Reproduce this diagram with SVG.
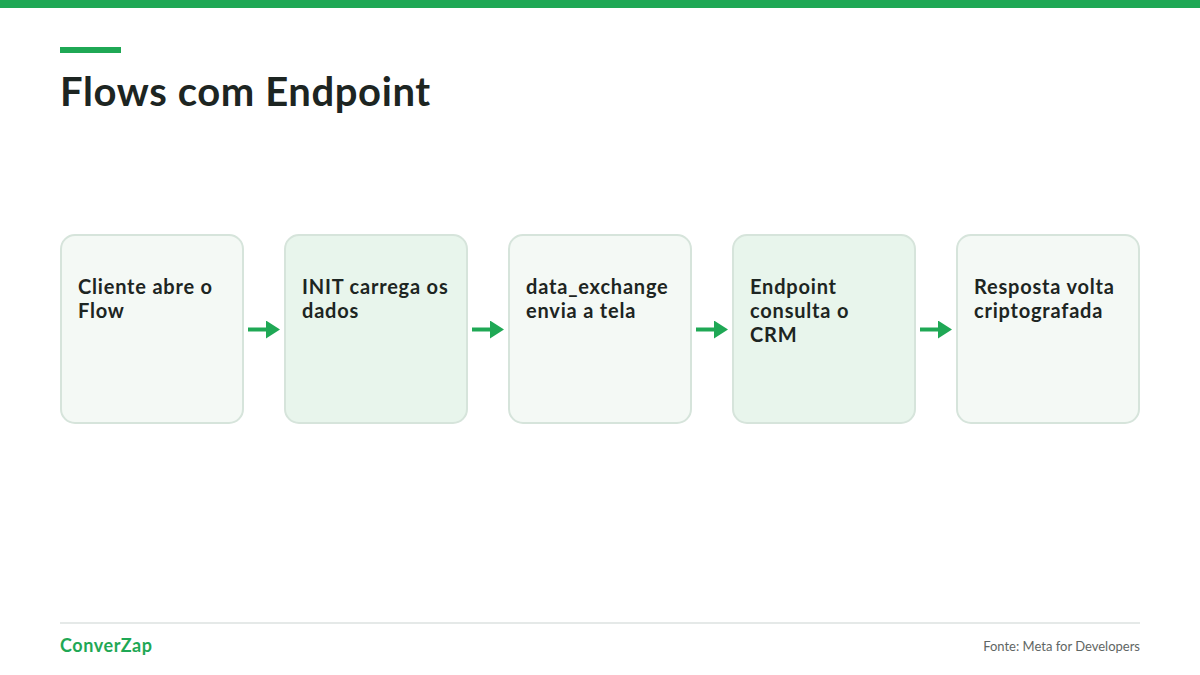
<svg xmlns="http://www.w3.org/2000/svg" width="1200" height="675" viewBox="0 0 1200 675">
  <defs>
    <style>
      .box { stroke: #d6e4db; stroke-width: 2; }
      .a { fill: #f4f9f5; }
      .b { fill: #e8f5ec; }
      .lbl { font-family: Lato, "Liberation Sans", sans-serif; font-weight: 700; font-size: 20px; letter-spacing: 0.8px; fill: #1d2522; }
      .conn { stroke: #1fa855; stroke-width: 4; fill: none; }
    </style>
    <marker id="arr" viewBox="0 0 14 18" refX="1" refY="9" markerWidth="14" markerHeight="18" markerUnits="userSpaceOnUse" orient="auto">
      <path d="M0,0 L14,9 L0,18 z" fill="#1fa855"/>
    </marker>
  </defs>
  <rect width="1200" height="675" fill="#ffffff"/>
  <rect x="0" y="0" width="1200" height="8" fill="#1fa855"/>
  <rect x="60" y="47" width="61" height="6" fill="#1fa855"/>
  <text x="60" y="106" font-family="Lato, 'Liberation Sans', sans-serif" font-weight="700" font-size="40" letter-spacing="0.6" fill="#1d2522">Flows com Endpoint</text>

  <g id="node1">
    <rect class="box a" x="61" y="235" width="182" height="188" rx="14"/>
    <text class="lbl" x="78" y="294">Cliente abre o</text>
    <text class="lbl" x="78" y="318">Flow</text>
  </g>
  <g id="node2">
    <rect class="box b" x="285" y="235" width="182" height="188" rx="14"/>
    <text class="lbl" x="302" y="294">INIT carrega os</text>
    <text class="lbl" x="302" y="318">dados</text>
  </g>
  <g id="node3">
    <rect class="box a" x="509" y="235" width="182" height="188" rx="14"/>
    <text class="lbl" x="526" y="294">data_exchange</text>
    <text class="lbl" x="526" y="318">envia a tela</text>
  </g>
  <g id="node4">
    <rect class="box b" x="733" y="235" width="182" height="188" rx="14"/>
    <text class="lbl" x="750" y="294">Endpoint</text>
    <text class="lbl" x="750" y="318">consulta o</text>
    <text class="lbl" x="750" y="342">CRM</text>
  </g>
  <g id="node5">
    <rect class="box a" x="957" y="235" width="182" height="188" rx="14"/>
    <text class="lbl" x="974" y="294">Resposta volta</text>
    <text class="lbl" x="974" y="318">criptografada</text>
  </g>

  <g id="connectors">
    <line class="conn" x1="248" y1="329.5" x2="267" y2="329.5" marker-end="url(#arr)"/>
    <line class="conn" x1="472" y1="329.5" x2="491" y2="329.5" marker-end="url(#arr)"/>
    <line class="conn" x1="696" y1="329.5" x2="715" y2="329.5" marker-end="url(#arr)"/>
    <line class="conn" x1="920" y1="329.5" x2="939" y2="329.5" marker-end="url(#arr)"/>
  </g>

  <line x1="60" y1="623" x2="1140" y2="623" stroke="#dde2e0" stroke-width="1.5"/>
  <text x="60" y="652" font-family="Lato, 'Liberation Sans', sans-serif" font-weight="700" font-size="18" letter-spacing="0.6" fill="#1fa855">ConverZap</text>
  <text x="1140" y="651" text-anchor="end" font-family="Lato, 'Liberation Sans', sans-serif" font-size="13" fill="#5f6664">Fonte: Meta for Developers</text>
</svg>
